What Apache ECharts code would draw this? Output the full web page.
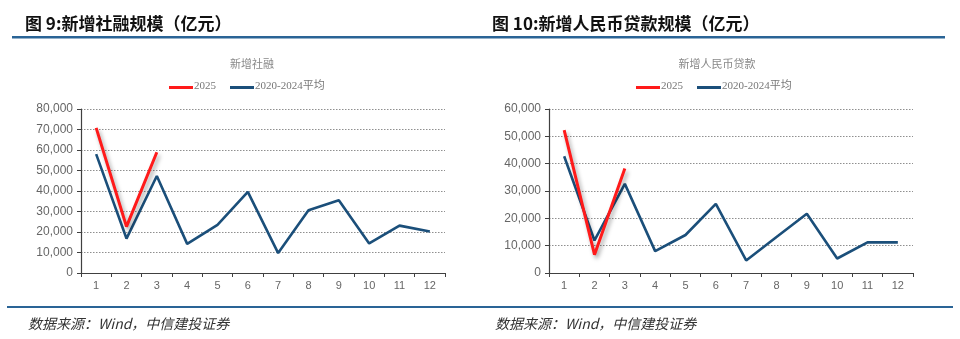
<!DOCTYPE html>
<html>
<head>
<meta charset="utf-8">
<script src="https://cdn.jsdelivr.net/npm/echarts@6/dist/echarts.min.js"></script>
<style>
  html, body { margin: 0; padding: 0; background: #fff; }
  #chart { width: 960px; height: 339px; }
</style>
</head>
<body>
<div id="chart"></div>
<script>
// Months 1-12
const months = ['1', '2', '3', '4', '5', '6', '7', '8', '9', '10', '11', '12'];

// Aggregate financing, 100 million yuan
const tsf2025 = [70800, 22600, 58900];
const tsfAvg = [58000, 16800, 47300, 14200, 23500, 39600, 9700, 30600, 35500, 14400, 23100, 20200];

// New RMB loans, 100 million yuan
const loan2025 = [52300, 6700, 38200];
const loanAvg = [42700, 11900, 32600, 8000, 13900, 25300, 4600, 13200, 21700, 5300, 11200, 11200];

const tsfTicks = { min: 0, max: 80000, interval: 10000 };
const loanTicks = { min: 0, max: 60000, interval: 10000 };

const seriesNames = ['2025', '2020-2024平均'];
const panelTitles = ['图 9:新增社融规模（亿元）', '图 10:新增人民币贷款规模（亿元）'];
const chartTitles = ['新增社融', '新增人民币贷款'];
const sourceText = '数据来源：Wind，中信建投证券';

const RED = '#ff1a1a';
const BLUE = '#1b4f7a';
const RULE = '#2a6496';
const cjk = '"Noto Sans CJK SC", "Liberation Sans", sans-serif';
const serif = '"Liberation Serif", "Noto Sans CJK SC", serif';

const chart = echarts.init(document.getElementById('chart'), null, { renderer: 'canvas' });

function xAxisCfg(gridIndex) {
  return {
    type: 'category', gridIndex, data: months, boundaryGap: true,
    axisLine: { lineStyle: { color: '#404040', width: 1.2 } },
    axisTick: { show: true, length: 4, lineStyle: { color: '#404040' } },
    axisLabel: { color: '#666', fontSize: 11, fontFamily: 'Liberation Sans', margin: 7 },
    splitLine: { show: false }
  };
}
function yAxisCfg(gridIndex, t) {
  return {
    type: 'value', gridIndex, min: t.min, max: t.max, interval: t.interval,
    axisLine: { show: true, lineStyle: { color: '#404040', width: 1.2 } },
    axisTick: { show: true, length: 4, lineStyle: { color: '#404040' } },
    axisLabel: {
      color: '#666', fontSize: 12, fontFamily: 'Liberation Sans', margin: 8,
      formatter: v => v.toLocaleString('en-US')
    },
    splitLine: { show: true, lineStyle: { color: '#8f8f8f', type: [1.5, 1.5], width: 1 } }
  };
}
function redSeries(idx, data) {
  return {
    name: seriesNames[0], type: 'line', xAxisIndex: idx, yAxisIndex: idx, data,
    symbol: 'none', z: 4, color: RED,
    lineStyle: {
      color: RED, width: 3,
      shadowColor: 'rgba(0,0,0,0.35)', shadowBlur: 4, shadowOffsetX: 2, shadowOffsetY: 3
    }
  };
}
function blueSeries(idx, data) {
  return {
    name: seriesNames[1], type: 'line', xAxisIndex: idx, yAxisIndex: idx, data,
    symbol: 'none', z: 3, color: BLUE,
    lineStyle: { color: BLUE, width: 2.6 }
  };
}

// Legend swatch + label drawn for one panel
function legendGraphics(x0) {
  return [
    { type: 'rect', shape: { x: x0, y: 86, width: 24, height: 3 }, style: { fill: RED } },
    { type: 'text', x: x0 + 25, y: 81, style: { text: seriesNames[0], fill: '#777', fontSize: 11, fontFamily: serif } },
    { type: 'rect', shape: { x: x0 + 61, y: 86, width: 24, height: 3 }, style: { fill: BLUE } },
    { type: 'text', x: x0 + 86, y: 81, style: { text: seriesNames[1], fill: '#777', fontSize: 11, fontFamily: serif } }
  ];
}

const titleStyle = { fontSize: 17, fontWeight: 'bold', color: '#111', fontFamily: cjk };
const subStyle = { fontSize: 11, fontWeight: 'normal', color: '#888', fontFamily: cjk };
const srcStyle = { fontSize: 14, fontWeight: 'normal', fontStyle: 'italic', color: '#333', fontFamily: cjk };

const option = {
  animation: false,
  title: [
    { text: panelTitles[0], left: 20, top: 10, textStyle: titleStyle },
    { text: panelTitles[1], left: 487, top: 10, textStyle: titleStyle },
    { text: chartTitles[0], left: 247, top: 53, textAlign: 'center', textStyle: subStyle },
    { text: chartTitles[1], left: 712, top: 53, textAlign: 'center', textStyle: subStyle },
    { text: sourceText, left: 23, top: 312, textStyle: srcStyle },
    { text: sourceText, left: 490, top: 312, textStyle: srcStyle }
  ],
  grid: [
    { left: 81, top: 109, width: 364, height: 164, containLabel: false },
    { left: 549, top: 109, width: 364, height: 164, containLabel: false }
  ],
  xAxis: [xAxisCfg(0), xAxisCfg(1)],
  yAxis: [yAxisCfg(0, tsfTicks), yAxisCfg(1, loanTicks)],
  series: [
    blueSeries(0, tsfAvg),
    redSeries(0, tsf2025),
    blueSeries(1, loanAvg),
    redSeries(1, loan2025)
  ],
  graphic: [
    { type: 'rect', shape: { x: 12, y: 36, width: 468, height: 2.5 }, style: { fill: RULE } },
    { type: 'rect', shape: { x: 480, y: 36, width: 465, height: 2.5 }, style: { fill: RULE } },
    { type: 'rect', shape: { x: 7, y: 306, width: 946, height: 2 }, style: { fill: RULE } },
    ...legendGraphics(169),
    ...legendGraphics(636)
  ]
};

chart.setOption(option);
</script>
</body>
</html>
